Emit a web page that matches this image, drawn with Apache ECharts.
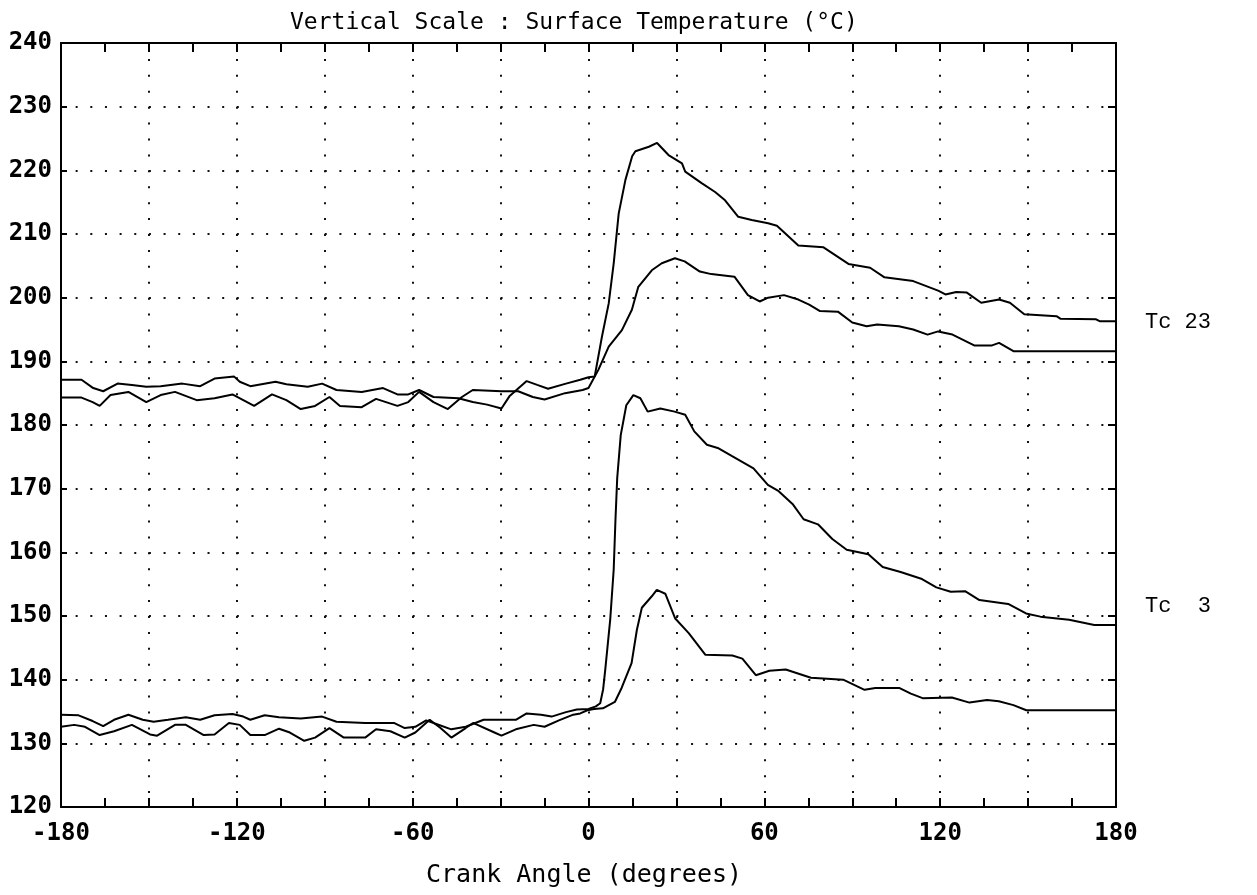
<!DOCTYPE html>
<html><head><meta charset="utf-8">
<script src="https://cdn.jsdelivr.net/npm/echarts@6.0.0/dist/echarts.min.js"></script>
<style>html,body{margin:0;padding:0;background:#fff}#c{width:1257px;height:895px}</style>
</head><body><div id="c"></div>
<script>
// Crank angle (deg) / surface temperature (°C) readings
const tc23HighAngle = [-180,-173,-169,-165.6,-160.7,-155.8,-150.9,-146,-138.6,-132.5,-127.6,-120.9,-119,-115.4,-106.8,-103.1,-95.8,-90.9,-86,-77.4,-70.1,-65.2,-61.5,-57.8,-52.9,-44.4,-39.5,-34.6,-29.7,-27,-21.1,-17.5,-13.8,-7.7,-2.8,0,2.1,4.6,6.9,8.6,10.3,12.6,14.9,16,20.6,23.4,27.3,31.9,33,38.6,43.2,46.6,51.1,55.7,61.3,64.3,71.6,80.2,88.7,96.1,101,110.8,119.3,121.8,125.5,129.1,134,140.1,143.8,148.7,159.7,161,173.2,174.4,180];
const tc23HighTemp  = [187.1,187.1,185.8,185.3,186.5,186.3,186.0,186.1,186.5,186.1,187.3,187.6,186.8,186.1,186.8,186.4,186.0,186.5,185.5,185.2,185.8,184.8,184.8,185.5,184.4,184.2,183.6,183.2,182.6,184.5,186.9,186.3,185.7,186.5,187.1,187.5,187.6,193.9,199.1,205.4,213.2,218.5,222.2,223.0,223.7,224.3,222.4,221.1,219.8,218.0,216.6,215.3,212.7,212.2,211.7,211.3,208.2,207.9,205.3,204.7,203.2,202.6,201.1,200.5,200.9,200.8,199.2,199.7,199.2,197.4,197.1,196.7,196.6,196.3,196.3];

const tc23LowAngle = [-180,-173,-169.2,-166.8,-163.1,-157,-150.9,-146,-141.1,-133.7,-127.6,-121.5,-117.8,-114.1,-108,-103.1,-98.2,-93.3,-88.4,-84.8,-77.4,-72.5,-65.2,-61.5,-57.8,-52.9,-48,-43.2,-39.5,-29.7,-24,-19,-15,-8,-2,0,3.4,6.9,11.4,14.8,17,21.6,25,29.5,32.8,38,41.9,49.8,54.4,58.4,61.3,66.7,71.6,75.3,79,85.1,90,94.9,98.5,105.9,110.8,115.7,119.3,124.2,131.6,137.7,140.1,145,180];
const tc23LowTemp  = [184.3,184.3,183.6,183.0,184.7,185.2,183.6,184.7,185.2,183.9,184.2,184.8,183.9,183.0,184.8,183.9,182.5,183.0,184.4,183.0,182.8,184.1,183.0,183.6,185.2,183.6,182.5,184.4,185.5,185.3,185.3,184.4,184.0,185.0,185.5,185.8,188.7,192.3,194.9,198.1,201.7,204.3,205.4,206.2,205.7,204.1,203.7,203.3,200.4,199.4,200.0,200.4,199.7,198.9,197.9,197.8,196.1,195.5,195.8,195.5,195.0,194.2,194.7,194.2,192.5,192.5,192.9,191.6,191.6];

const tc3HighAngle = [-180,-174,-169.2,-165.6,-161.9,-157,-152.1,-148.4,-143.5,-137.4,-132.5,-127.6,-121.5,-117.8,-115.4,-110.5,-105.6,-98.2,-90.9,-86,-76.2,-66.4,-62.7,-59.1,-55.4,-51.7,-46.8,-41.9,-35.8,-24.8,-21.1,-16.2,-12.6,-7.7,-4,0,2.5,4,5,5.7,7.4,8.6,9.2,9.8,11,12.9,15.3,17.7,20.2,24.5,29.4,33,36.1,40.4,44.1,49,56.3,61.2,64.9,69.8,73.4,78.3,83.2,88.1,95.5,100.4,106.5,113.8,118.7,123.6,128.5,133.4,143.2,149.3,154.2,164,172.6,180];
const tc3HighTemp  = [134.5,134.4,133.5,132.7,133.7,134.5,133.7,133.4,133.7,134.1,133.7,134.4,134.6,134.2,133.7,134.4,134.1,133.9,134.2,133.4,133.2,133.2,132.4,132.6,133.6,133.0,132.2,132.6,133.7,133.7,134.7,134.5,134.2,134.9,135.3,135.4,135.8,136.3,138.5,141.5,149.4,157.3,165.1,171.7,178.4,183.1,184.7,184.2,182.1,182.6,182.1,181.6,179.0,176.9,176.4,175.1,173.2,170.6,169.6,167.5,165.2,164.4,162.1,160.4,159.7,157.7,156.9,155.8,154.5,153.8,153.9,152.5,151.9,150.4,149.9,149.4,148.6,148.6];

const tc3LowAngle = [-180,-175.5,-171.8,-166.8,-161.9,-155.8,-149.6,-147.2,-141.1,-137.4,-131.3,-127.6,-122.7,-119,-115.4,-110.5,-105.6,-101.9,-97,-93.3,-88.4,-83.5,-76.2,-72.5,-67.6,-62.7,-59.1,-54.2,-50.5,-46.8,-41.9,-39.4,-32.1,-29.7,-24.8,-18.7,-15,-10.1,-5.2,-2.8,-0.4,1.9,4.9,9,11.3,14.7,16.5,18.2,21.6,23.3,26.2,29.6,34.2,39.9,49.1,52.5,57.1,61.7,67.3,75.9,86.9,94.2,97.9,106,110,114,124,130,136,140,145,149.4,180];
const tc3LowTemp  = [132.6,132.9,132.6,131.3,131.9,132.9,131.4,131.2,132.9,132.9,131.3,131.4,133.2,132.9,131.3,131.3,132.3,131.7,130.4,130.9,132.4,130.9,130.9,132.2,131.9,130.9,131.7,133.7,132.4,130.9,132.4,133.2,131.7,131.2,132.2,132.9,132.6,133.6,134.5,134.7,135.2,135.4,135.5,136.5,138.7,142.6,147.8,151.3,153.1,154.1,153.5,149.6,147.3,143.9,143.8,143.3,140.7,141.4,141.6,140.3,140.0,138.4,138.7,138.7,137.8,137.1,137.2,136.4,136.8,136.6,136.0,135.2,135.2];

const xLabelValues = [-180,-120,-60,0,60,120,180];
const titleText = 'Vertical Scale : Surface Temperature (°C)';
const xName = 'Crank Angle (degrees)';
const seriesLabels = ['Tc 23', 'Tc  3'];

function pairs(xs, ys){ return xs.map((x,i)=>[x, ys[i]]); }

const ink = '#000';
const mono = 'DejaVu Sans Mono';
const chart = echarts.init(document.getElementById('c'), null, {renderer:'canvas'});
const lineSeries = (name, xs, ys) => ({
  name, type:'line', data: pairs(xs, ys), showSymbol:false, symbol:'none',
  lineStyle:{color:ink, width:2}, xAxisIndex:0, yAxisIndex:0, animation:false, z:5
});
const axisLine = {show:true, onZero:false, lineStyle:{color:ink, width:2}};

chart.setOption({
  backgroundColor:'#fff',
  animation:false,
  grid:{left:61, right:141, top:43, bottom:88, containLabel:false},
  xAxis:[
    {type:'value', min:-180, max:180, interval:15, position:'bottom',
      axisLine, axisTick:{show:true, inside:true, length:9, lineStyle:{color:ink, width:2}},
      axisLabel:{show:true, margin:15, color:ink, fontFamily:mono, fontWeight:'bold', fontSize:24,
        showMinLabel:true, showMaxLabel:true,
        formatter: v => xLabelValues.indexOf(v) >= 0 ? String(v) : ''},
      splitLine:{show:false}},
    {type:'value', min:-180, max:180, interval:30, position:'top',
      axisLine, axisTick:{show:true, inside:true, length:9, lineStyle:{color:ink, width:2}},
      minorTick:{show:true, splitNumber:2, length:9, lineStyle:{color:ink, width:2}},
      axisLabel:{show:false},
      splitLine:{show:true, lineStyle:{color:'#111', width:2, type:[2, 13.917]}}}
  ],
  yAxis:[
    {type:'value', min:120, max:240, interval:10, position:'left',
      axisLine, axisTick:{show:true, inside:true, length:6, lineStyle:{color:ink, width:2}},
      axisLabel:{margin:9, color:ink, fontFamily:mono, fontWeight:'bold', fontSize:24},
      splitLine:{show:true, lineStyle:{color:'#111', width:2, type:[2, 12.653]}}},
    {type:'value', min:120, max:240, interval:10, position:'right',
      axisLine, axisTick:{show:true, inside:true, length:8, lineStyle:{color:ink, width:2}},
      axisLabel:{show:false}, splitLine:{show:false}}
  ],
  series:[
    lineSeries('Tc23a', tc23HighAngle, tc23HighTemp),
    lineSeries('Tc23b', tc23LowAngle, tc23LowTemp),
    lineSeries('Tc3a', tc3HighAngle, tc3HighTemp),
    lineSeries('Tc3b', tc3LowAngle, tc3LowTemp)
  ],
  graphic:[
    {type:'text', left:290, top:12, style:{text:titleText, fill:ink, font:'23px "DejaVu Sans Mono"'}},
    {type:'text', left:426, top:863, style:{text:xName, fill:ink, font:'25px "DejaVu Sans Mono"'}},
    {type:'text', left:1145, top:311, style:{text:seriesLabels[0], fill:ink, font:'22px "Liberation Mono"'}},
    {type:'text', left:1145, top:595, style:{text:seriesLabels[1], fill:ink, font:'22px "Liberation Mono"'}}
  ]
});
</script></body></html>
